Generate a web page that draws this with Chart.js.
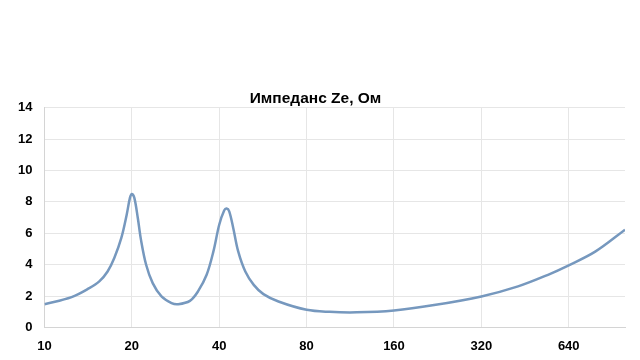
<!DOCTYPE html>
<html>
<head>
<meta charset="utf-8">
<script src="https://cdn.jsdelivr.net/npm/chart.js@4"></script>
<style>
html,body{margin:0;padding:0;background:#fff;}
#wrap{width:640px;height:360px;}
</style>
</head>
<body>
<div id="wrap"><canvas id="c" width="640" height="360"></canvas></div>
<script>
const titleText = "Импеданс Ze, Ом";
const xTicks = [10, 20, 40, 80, 160, 320, 640];
const yTicks = [0, 2, 4, 6, 8, 10, 12, 14];
const freqs = [10, 12.4, 14.27, 15.45, 16.5, 17.4, 18.4, 19.2, 19.7, 20, 20.4, 20.97, 21.5, 22.4, 23.6, 25.3, 27.4, 28.9, 31.7, 33.8, 36.2, 38.2, 40, 41.6, 42.4, 43.3, 44.7, 46.5, 49.2, 52.6, 56.8, 64, 80, 96, 119, 160, 220, 320, 428, 543, 640, 792, 1000];
const impedance = [1.47, 1.93, 2.5, 2.93, 3.56, 4.42, 5.7, 7.18, 8.25, 8.5, 8.25, 6.97, 5.59, 3.99, 2.82, 1.97, 1.55, 1.48, 1.69, 2.29, 3.35, 4.84, 6.54, 7.44, 7.57, 7.39, 6.33, 4.84, 3.56, 2.71, 2.12, 1.65, 1.12, 0.99, 0.96, 1.08, 1.42, 1.97, 2.61, 3.35, 3.95, 4.84, 6.22];

const points = freqs.map((f, i) => ({x: f, y: impedance[i]}));
const FONT = "'Liberation Sans', Arial, sans-serif";

new Chart(document.getElementById('c'), {
  type: 'line',
  data: {
    datasets: [{
      data: points,
      borderColor: '#7698BE',
      borderWidth: 2.5,
      pointRadius: 0,
      fill: false,
      tension: 0.35
    }]
  },
  options: {
    responsive: false,
    animation: false,
    devicePixelRatio: 1,
    layout: {padding: {top: 89, left: 6, right: 15, bottom: -5}},
    plugins: {
      legend: {display: false},
      tooltip: {enabled: false},
      title: {
        display: true,
        text: titleText,
        color: '#000',
        font: {family: FONT, size: 15.5, weight: 'bold'},
        padding: {top: 0, bottom: 0}
      }
    },
    scales: {
      x: {
        type: 'logarithmic',
        min: 10,
        max: 1000,
        afterBuildTicks: (axis) => { axis.ticks = xTicks.map(v => ({value: v})); },
        ticks: {
          color: '#000',
          font: {family: FONT, size: 13, weight: 'bold'},
          maxRotation: 0,
          autoSkip: false,
          padding: 11,
          callback: (v) => String(v)
        },
        grid: {color: '#e6e6e6', drawTicks: false},
        border: {color: '#d4d4d4'}
      },
      y: {
        min: 0,
        max: 14,
        afterBuildTicks: (axis) => { axis.ticks = yTicks.map(v => ({value: v})); },
        ticks: {
          color: '#000',
          font: {family: FONT, size: 13, weight: 'bold'},
          padding: 12
        },
        grid: {color: '#e6e6e6', drawTicks: false},
        border: {color: '#d4d4d4'}
      }
    }
  }
});
</script>
</body>
</html>
